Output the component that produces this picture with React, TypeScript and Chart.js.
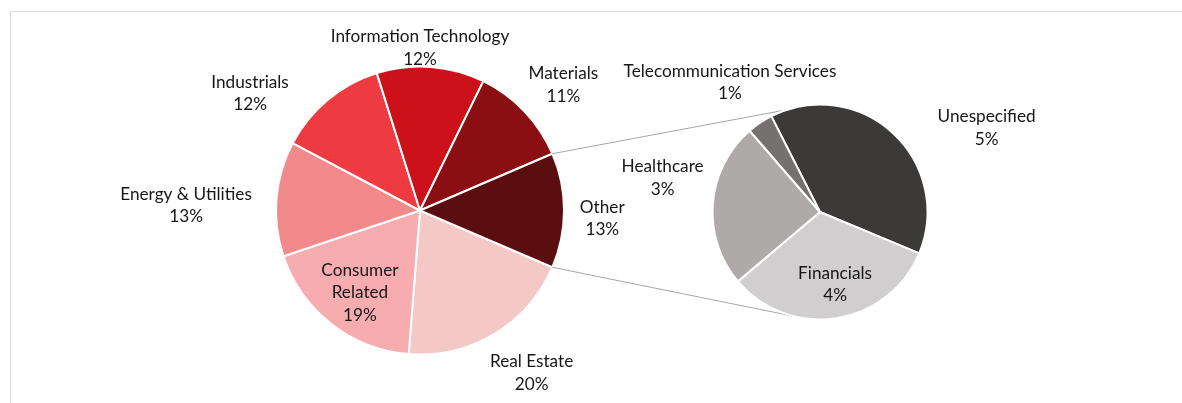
import React, { useEffect, useRef } from "react";
import { Chart, registerables } from "chart.js";

Chart.register(...registerables);

// ---------- data ----------
const mainLabels: (string | string[])[] = [
  "Real Estate",
  ["Consumer", "Related"],
  "Energy & Utilities",
  "Industrials",
  "Information Technology",
  "Materials",
  "Other",
];
const sectorValues = [19.8, 18.6, 12.9, 12.4, 12.1, 11.3];
const subLabels: string[] = ["Unespecified", "Financials", "Healthcare", "Telecommunication Services"];
const subValues = [5.0, 4.2, 3.2, 0.5];
const otherValue = subValues.reduce((a, b) => a + b, 0);
const mainValues = [...sectorValues, otherValue];

// ---------- styles ----------
const mainColors = ["#f5c8c8", "#f7adb0", "#f28a8b", "#ee3a41", "#cc111b", "#8a0e12", "#5a0e0f"];
const subColors = ["#3b3a39", "#d0cece", "#aeaaaa", "#767171"];

const W = 1182;
const H = 403;
const BORDER = 2;
const MAIN = { cx: 420, cy: 210.5, r: 144 };
const SUB = { cx: 820, cy: 212, r: 107.5 };
const FONT = "17.2px Lato";
const LINE_H = 22.5;
const TEXT_COLOR = "#161616";

// label block placement: [angle deg, distance as multiple of radius]
const mainLabelPolar: [number, number][] = [
  [55.5, 1.368],
  [126.1, 0.708],
  [181.2, 1.625],
  [214.5, 1.432],
  [270, 1.128],
  [318.8, 1.323],
  [2.5, 1.267],
];
const subLabelPolar: [number, number][] = [
  [-26.7, 1.735],
  [78.3, 0.69],
  [192.2, 1.498],
  [235.2, 1.467],
];
const connectorAngles = [-108, 104];

function paddingFor(p: { cx: number; cy: number; r: number }) {
  const s = 2 * p.r + BORDER;
  return {
    left: p.cx - s / 2,
    top: p.cy - s / 2,
    right: W - (p.cx + s / 2),
    bottom: H - (p.cy + s / 2),
  };
}

function labelPlugin(polar: [number, number][], values: number[], total: number) {
  return {
    id: "pieLabels",
    afterDatasetsDraw(chart: any) {
      const ctx = chart.ctx as CanvasRenderingContext2D;
      const meta = chart.getDatasetMeta(0);
      const labels = chart.data.labels as (string | string[])[];
      ctx.save();
      ctx.font = FONT;
      ctx.fillStyle = TEXT_COLOR;
      ctx.textAlign = "center";
      ctx.textBaseline = "middle";
      meta.data.forEach((arc: any, i: number) => {
        const [deg, f] = polar[i];
        const a = (deg * Math.PI) / 180;
        const R = arc.outerRadius;
        const x = arc.x + Math.cos(a) * R * f;
        const y = arc.y + Math.sin(a) * R * f;
        const name = labels[i];
        const lines = [...(Array.isArray(name) ? name : [name]), Math.round((values[i] / total) * 100) + "%"];
        const y0 = y - ((lines.length - 1) * LINE_H) / 2;
        lines.forEach((t, k) => ctx.fillText(t, x, y0 + k * LINE_H));
      });
      ctx.restore();
    },
  };
}

export default function App() {
  const mainRef = useRef<HTMLCanvasElement>(null);
  const subRef = useRef<HTMLCanvasElement>(null);

  useEffect(() => {
    const mainTotal = mainValues.reduce((a, b) => a + b, 0);
    const otherShare = otherValue / mainTotal;
    const main = new Chart(mainRef.current!, {
      type: "pie",
      data: {
        labels: mainLabels as any,
        datasets: [
          {
            data: mainValues,
            backgroundColor: mainColors,
            borderColor: "#ffffff",
            borderWidth: BORDER,
          },
        ],
      },
      options: {
        animation: false,
        responsive: false,
        rotation: 90 + otherShare * 180,
        layout: { padding: paddingFor(MAIN) },
        plugins: { legend: { display: false }, tooltip: { enabled: false } },
      },
      plugins: [labelPlugin(mainLabelPolar, mainValues, mainTotal)],
    });

    const subTotal = subValues.reduce((a, b) => a + b, 0);
    const connector = {
      id: "connector",
      beforeDatasetsDraw(chart: any) {
        const other = main.getDatasetMeta(0).data[mainValues.length - 1] as any;
        const arc = chart.getDatasetMeta(0).data[0] as any;
        if (!other || !arc) return;
        const ctx = chart.ctx as CanvasRenderingContext2D;
        const ends = [other.startAngle, other.endAngle];
        ctx.save();
        ctx.strokeStyle = "#a6a6a6";
        ctx.lineWidth = 1;
        ends.forEach((ang: number, k: number) => {
          const b = (connectorAngles[k] * Math.PI) / 180;
          ctx.beginPath();
          ctx.moveTo(other.x + Math.cos(ang) * other.outerRadius, other.y + Math.sin(ang) * other.outerRadius);
          ctx.lineTo(arc.x + Math.cos(b) * arc.outerRadius, arc.y + Math.sin(b) * arc.outerRadius);
          ctx.stroke();
        });
        ctx.restore();
      },
    };

    const sub = new Chart(subRef.current!, {
      type: "pie",
      data: {
        labels: subLabels,
        datasets: [
          {
            data: subValues,
            backgroundColor: subColors,
            borderColor: "#ffffff",
            borderWidth: BORDER,
          },
        ],
      },
      options: {
        animation: false,
        responsive: false,
        rotation: 90 + 22.6 - (subValues[0] / subTotal) * 360,
        layout: { padding: paddingFor(SUB) },
        plugins: { legend: { display: false }, tooltip: { enabled: false } },
      },
      plugins: [connector, labelPlugin(subLabelPolar, subValues, mainTotal)],
    });

    return () => {
      sub.destroy();
      main.destroy();
    };
  }, []);

  return (
    <div
      style={{
        position: "absolute",
        left: 0,
        top: 0,
        width: W,
        height: H,
        overflow: "hidden",
        background: "#ffffff",
      }}
    >
      <div
        style={{
          position: "absolute",
          left: 10,
          top: 11,
          width: W,
          height: H,
          borderTop: "1px solid #d9d9d9",
          borderLeft: "1px solid #d9d9d9",
        }}
      />
      <canvas ref={mainRef} width={W} height={H} style={{ position: "absolute", left: 0, top: 0 }} />
      <canvas ref={subRef} width={W} height={H} style={{ position: "absolute", left: 0, top: 0 }} />
    </div>
  );
}
